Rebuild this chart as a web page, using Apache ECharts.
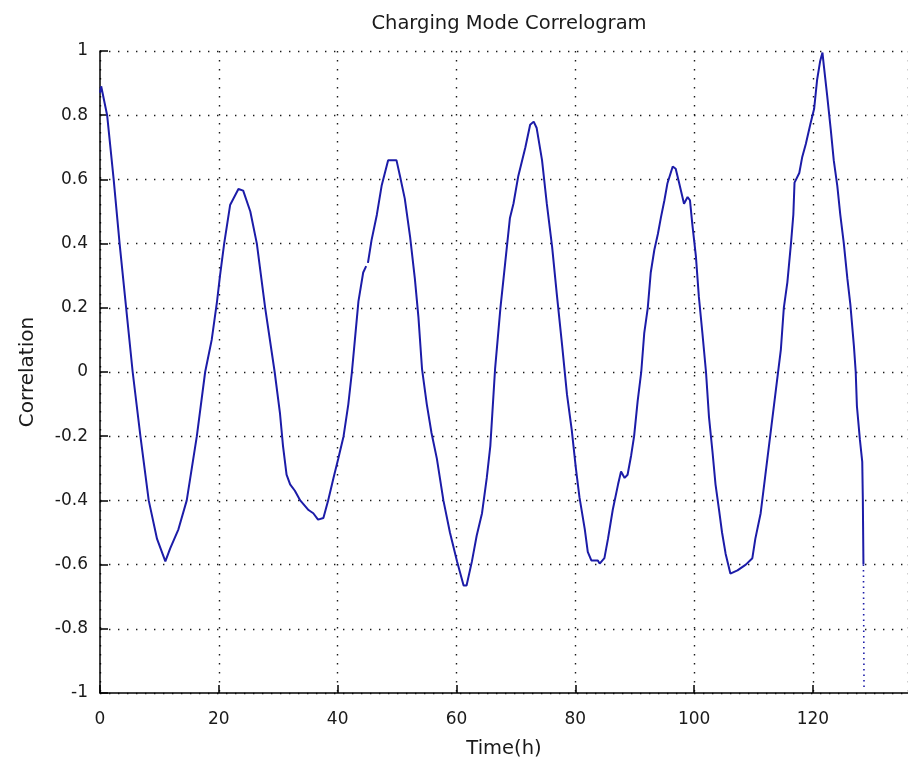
<!DOCTYPE html>
<html>
<head>
<meta charset="utf-8">
<script src="https://cdn.jsdelivr.net/npm/echarts@6/dist/echarts.min.js"></script>
<style>
  html, body { margin: 0; padding: 0; background: #ffffff; }
  #chart { width: 908px; height: 771px; }
</style>
</head>
<body>
<div id="chart"></div>
<script>
// Lag time (hours) of each correlogram sample
const timeH = [
  0, 0.2, 1.2, 2.3, 3.3, 4.4, 5.5, 6.8, 8.2, 9.6, 11.0, 11.8, 13.2, 14.6, 16.3, 17.7, 18.8, 19.7,
  20.2, 20.9, 21.9, 23.3, 24.1, 25.3, 26.4, 27.8, 29.4, 30.3, 30.8, 31.4, 32.0, 32.8, 33.7, 35.1,
  35.9, 36.7, 37.6, 38.4, 39.3, 40.1, 41.0, 41.8, 42.4, 42.9, 43.5, 44.3, 44.8, 45.0, 45.1, 45.7,
  46.6, 47.4, 48.5, 49.9, 50.5, 51.3, 52.2, 53.0, 53.6, 54.2, 55.0, 55.8, 56.7, 57.8, 58.9, 60.1,
  61.2, 61.7, 62.6, 63.4, 64.3, 65.1, 65.7, 66.5, 67.4, 68.2, 69.0, 69.6, 70.4, 71.6, 72.4, 73.0,
  73.5, 74.4, 75.2, 76.1, 76.9, 77.8, 78.6, 79.4, 80.1, 80.7, 81.6, 82.1, 82.7, 83.8, 84.1, 84.9,
  85.5, 86.3, 87.2, 87.7, 88.3, 88.8, 89.4, 89.9, 90.5, 91.1, 91.6, 92.2, 92.7, 93.3, 93.9, 94.4,
  95.0, 95.5, 96.4, 96.9, 97.5, 98.3, 98.9, 99.3, 99.7, 100.3, 100.8, 101.4, 102.0, 102.5, 103.1,
  103.6, 104.2, 104.7, 105.3, 106.1, 107.3, 108.7, 109.8, 110.3, 111.2, 112.0, 113.0, 114.0, 114.6,
  115.1, 115.7, 116.3, 116.7, 116.9, 117.7, 118.2, 118.8, 119.6, 120.2, 120.7, 121.2, 121.6, 121.8,
  122.4, 123.0, 123.5, 124.1, 124.6, 125.2, 125.8, 126.3, 126.9, 127.2, 127.4, 127.9, 128.3, 128.4,
  128.5
];

// Correlation coefficient at each lag (null = missing sample)
const correlation = [
  0.87, 0.89, 0.80, 0.60, 0.40, 0.20, 0.00, -0.20, -0.40, -0.52, -0.59, -0.55, -0.49, -0.40, -0.20, 0.00, 0.10, 0.22,
  0.30, 0.40, 0.52, 0.57, 0.565, 0.50, 0.40, 0.20, 0.00, -0.13, -0.23, -0.32, -0.35, -0.37, -0.40, -0.43,
  -0.44, -0.46, -0.455, -0.40, -0.33, -0.27, -0.20, -0.10, 0.00, 0.10, 0.22, 0.31, 0.33, null, 0.34, 0.41,
  0.49, 0.58, 0.66, 0.66, 0.61, 0.54, 0.42, 0.29, 0.17, 0.01, -0.10, -0.19, -0.27, -0.40, -0.50, -0.59,
  -0.665, -0.665, -0.59, -0.51, -0.44, -0.33, -0.23, 0.01, 0.20, 0.34, 0.48, 0.525, 0.61, 0.70, 0.77, 0.78,
  0.76, 0.66, 0.525, 0.39, 0.24, 0.08, -0.07, -0.18, -0.30, -0.39, -0.49, -0.56, -0.587, -0.587, -0.597, -0.58,
  -0.52, -0.43, -0.35, -0.31, -0.33, -0.32, -0.26, -0.20, -0.09, 0.00, 0.12, 0.20, 0.31, 0.38, 0.43, 0.48,
  0.535, 0.587, 0.64, 0.633, 0.587, 0.524, 0.545, 0.535, 0.46, 0.36, 0.234, 0.12, 0.00, -0.14, -0.25,
  -0.35, -0.43, -0.50, -0.566, -0.628, -0.618, -0.60, -0.58, -0.52, -0.44, -0.32, -0.17, -0.02, 0.07,
  0.20, 0.28, 0.40, 0.49, 0.59, 0.62, 0.67, 0.71, 0.775, 0.82, 0.91, 0.967, 0.995, 0.96,
  0.86, 0.755, 0.66, 0.58, 0.49, 0.40, 0.29, 0.21, 0.08, 0.00, -0.106, -0.21, -0.28, -0.40,
  -0.60
];

// Final sparse drop at the end of the record
const tailTime = [128.5, 128.6];
const tailCorrelation = [-0.60, -0.99];

const titleText = 'Charging Mode Correlogram';
const xName = 'Time(h)';
const yName = 'Correlation';

const mainLine = timeH.map((t, i) => [t, correlation[i]]);
const tailLine = tailTime.map((t, i) => [t, tailCorrelation[i]]);

const FONT = 'DejaVu Sans';
const LINE_BLUE = '#1c1ca8';
const gridDots = { color: '#1a1a1a', width: 1.4, type: [1.4, 7.6] };

const chart = echarts.init(document.getElementById('chart'), null, { renderer: 'canvas' });
chart.setOption({
  animation: false,
  backgroundColor: '#ffffff',
  title: {
    text: titleText,
    left: 504,
    top: 9,
    textAlign: 'center',
    textStyle: { fontFamily: FONT, fontSize: 19.5, fontWeight: 'normal', color: '#1a1a1a' }
  },
  grid: { left: 100, top: 51, width: 810, height: 642, containLabel: false },
  xAxis: {
    type: 'value',
    min: 0,
    max: 136,
    interval: 20,
    name: xName,
    nameLocation: 'middle',
    nameGap: 46,
    nameTextStyle: { fontFamily: FONT, fontSize: 19.5, color: '#1a1a1a' },
    axisLine: { show: true, onZero: false, lineStyle: { color: '#000', width: 1.5 } },
    axisTick: { show: true, inside: true, length: 8, lineStyle: { color: '#000', width: 1.5 } },
    axisLabel: { fontFamily: FONT, fontSize: 17, color: '#1a1a1a', margin: 18, showMaxLabel: false },
    splitLine: { show: true, lineStyle: gridDots }
  },
  yAxis: {
    type: 'value',
    min: -1,
    max: 1,
    interval: 0.2,
    name: yName,
    nameLocation: 'middle',
    nameGap: 62,
    nameRotate: 90,
    nameTextStyle: { fontFamily: FONT, fontSize: 20, color: '#1a1a1a' },
    axisLine: { show: true, onZero: false, lineStyle: { color: '#000', width: 1.5 } },
    axisTick: { show: true, inside: true, length: 8, lineStyle: { color: '#000', width: 1.5 } },
    axisLabel: {
      fontFamily: FONT, fontSize: 17, color: '#1a1a1a', margin: 12,
      formatter: v => {
        const r = Math.round(v * 10) / 10;
        return r === 0 ? '0' : String(r);
      }
    },
    splitLine: { show: true, lineStyle: gridDots }
  },
  series: [
    {
      type: 'line',
      data: mainLine,
      showSymbol: false,
      connectNulls: false,
      lineStyle: { color: LINE_BLUE, width: 2 },
      z: 3
    },
    {
      type: 'line',
      data: tailLine,
      showSymbol: false,
      lineStyle: { color: LINE_BLUE, width: 1.6, type: [1.5, 4] },
      z: 3
    }
  ]
});
</script>
</body>
</html>
